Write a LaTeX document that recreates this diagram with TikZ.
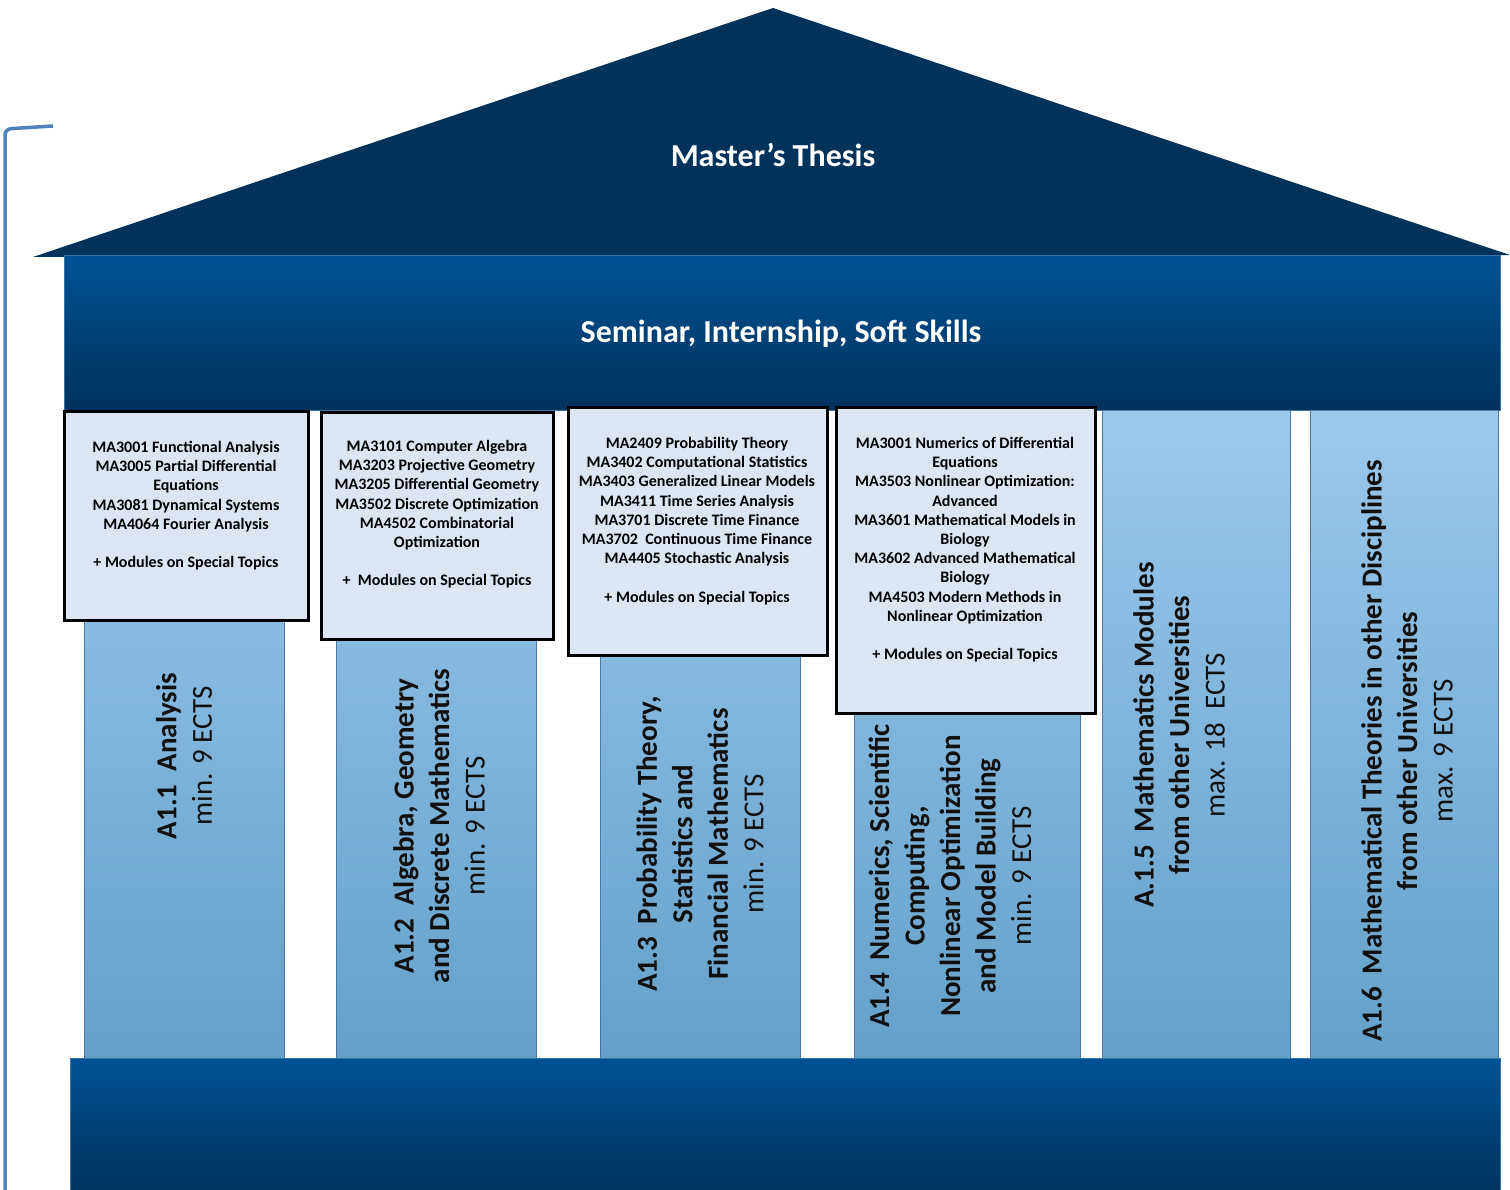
\documentclass[tikz,border=0pt]{standalone}
\usepackage{fontspec}
\setmainfont{Carlito}
\definecolor{roofc}{HTML}{00325A}
\definecolor{bandtop}{HTML}{005294}
\definecolor{bandbot}{HTML}{00325C}
\definecolor{coltop}{HTML}{9CC8EC}
\definecolor{colbot}{HTML}{65A0C8}
\definecolor{coledge}{HTML}{4A78A0}
\definecolor{boxfill}{HTML}{DCE6F2}
\definecolor{brack}{HTML}{4F81BD}
\definecolor{coltext}{HTML}{101010}
\tikzset{
  colbar/.style={draw=coledge, line width=0.8pt, top color=coltop, bottom color=colbot},
  band/.style={draw=bandtop!80!white, line width=1pt, top color=bandtop, bottom color=bandbot},
  modbox/.style={draw=black, line width=3pt, fill=boxfill},
  modtext/.style={anchor=north, align=center, inner sep=0pt, font=\fontsize{16}{19.2}\selectfont\bfseries, text=black},
  coltitle/.style={rotate=90, align=center, inner sep=0pt, font=\fontsize{29}{35.5}\selectfont, text=coltext},
  headtext/.style={text=white, font=\fontsize{32}{38}\selectfont\bfseries, inner sep=0pt}
}
\begin{document}
\begin{tikzpicture}[x=1pt,y=-1pt]
\useasboundingbox (0,0) rectangle (1510,1190);
% roof
\fill[roofc] (33,257) -- (773,8) -- (1510,255) -- cycle;
\node[headtext] (thesis) at (773,155) {Master’s Thesis};
% seminar band
\path[band] (64,256) rectangle (1500,410);
\node[headtext] (seminar) at (781,334) {Seminar, Internship, Soft Skills};
% columns
\path[colbar] (84,410) rectangle (284,1058);
\path[colbar] (336,410) rectangle (536,1058);
\path[colbar] (600,410) rectangle (800,1058);
\path[colbar] (854,410) rectangle (1080,1058);
\path[colbar] (1102,410) rectangle (1290,1058);
\path[colbar] (1310,410) rectangle (1498,1058);
% module boxes
\path[modbox] (64,411) rectangle (308,620);
\path[modbox] (321,412) rectangle (553,639);
\path[modbox] (568,407) rectangle (827,655);
\path[modbox] (836,407) rectangle (1095,713);
\node[modtext] (m1) at (186,441) {MA3001 Functional Analysis\\MA3005 Partial Differential\\Equations\\MA3081 Dynamical Systems\\MA4064 Fourier Analysis\\[19.2pt]+ Modules on Special Topics};
\node[modtext] (m2) at (437,440) {MA3101 Computer Algebra\\MA3203 Projective Geometry\\MA3205 Differential Geometry\\MA3502 Discrete Optimization\\MA4502 Combinatorial\\Optimization\\[19.2pt]+\ \ Modules on Special Topics};
\node[modtext] (m3) at (697,437) {MA2409 Probability Theory\\MA3402 Computational Statistics\\MA3403 Generalized Linear Models\\MA3411 Time Series Analysis\\MA3701 Discrete Time Finance\\MA3702\ \ Continuous Time Finance\\MA4405 Stochastic Analysis\\[19.2pt]+ Modules on Special Topics};
\node[modtext] (m4) at (965,437) {MA3001 Numerics of Differential\\Equations\\MA3503 Nonlinear Optimization:\\Advanced\\MA3601 Mathematical Models in\\Biology\\MA3602 Advanced Mathematical\\Biology\\MA4503 Modern Methods in\\Nonlinear Optimization\\[19.2pt]+ Modules on Special Topics};
% column titles
\node[coltitle] (c1) at (184,756) {\textbf{A1.1\ \ Analysis}\\min. 9 ECTS};
\node[coltitle] (c2) at (439,826) {\textbf{A1.2\ \ Algebra, Geometry}\\\textbf{and Discrete Mathematics}\\min. 9 ECTS};
\node[coltitle] (c3) at (700,844) {\textbf{A1.3\ \ Probability Theory,}\\\textbf{Statistics and}\\\textbf{Financial Mathematics}\\min. 9 ECTS};
\node[coltitle] (c4) at (950,876) {\textbf{A1.4\ \ Numerics, Scientific}\\\textbf{Computing,}\\\textbf{Nonlinear Optimization}\\\textbf{and Model Building}\\min. 9 ECTS};
\node[coltitle] (c5) at (1179,735) {\textbf{A.1.5\ \ Mathematics Modules}\\\textbf{from other Universities}\\max. 18\ \ ECTS};
\node[coltitle] (c6) at (1407,751) {\textbf{A1.6\ \ Mathematical Theories in other Disciplines}\\\textbf{from other Universities}\\max. 9 ECTS};
% base
\path[band] (70,1058) rectangle (1500,1195);
% bracket
\draw[brack, line width=3.5pt, rounded corners=6pt] (5,1195) -- (5,129) -- (53,126);
\end{tikzpicture}
\end{document}
